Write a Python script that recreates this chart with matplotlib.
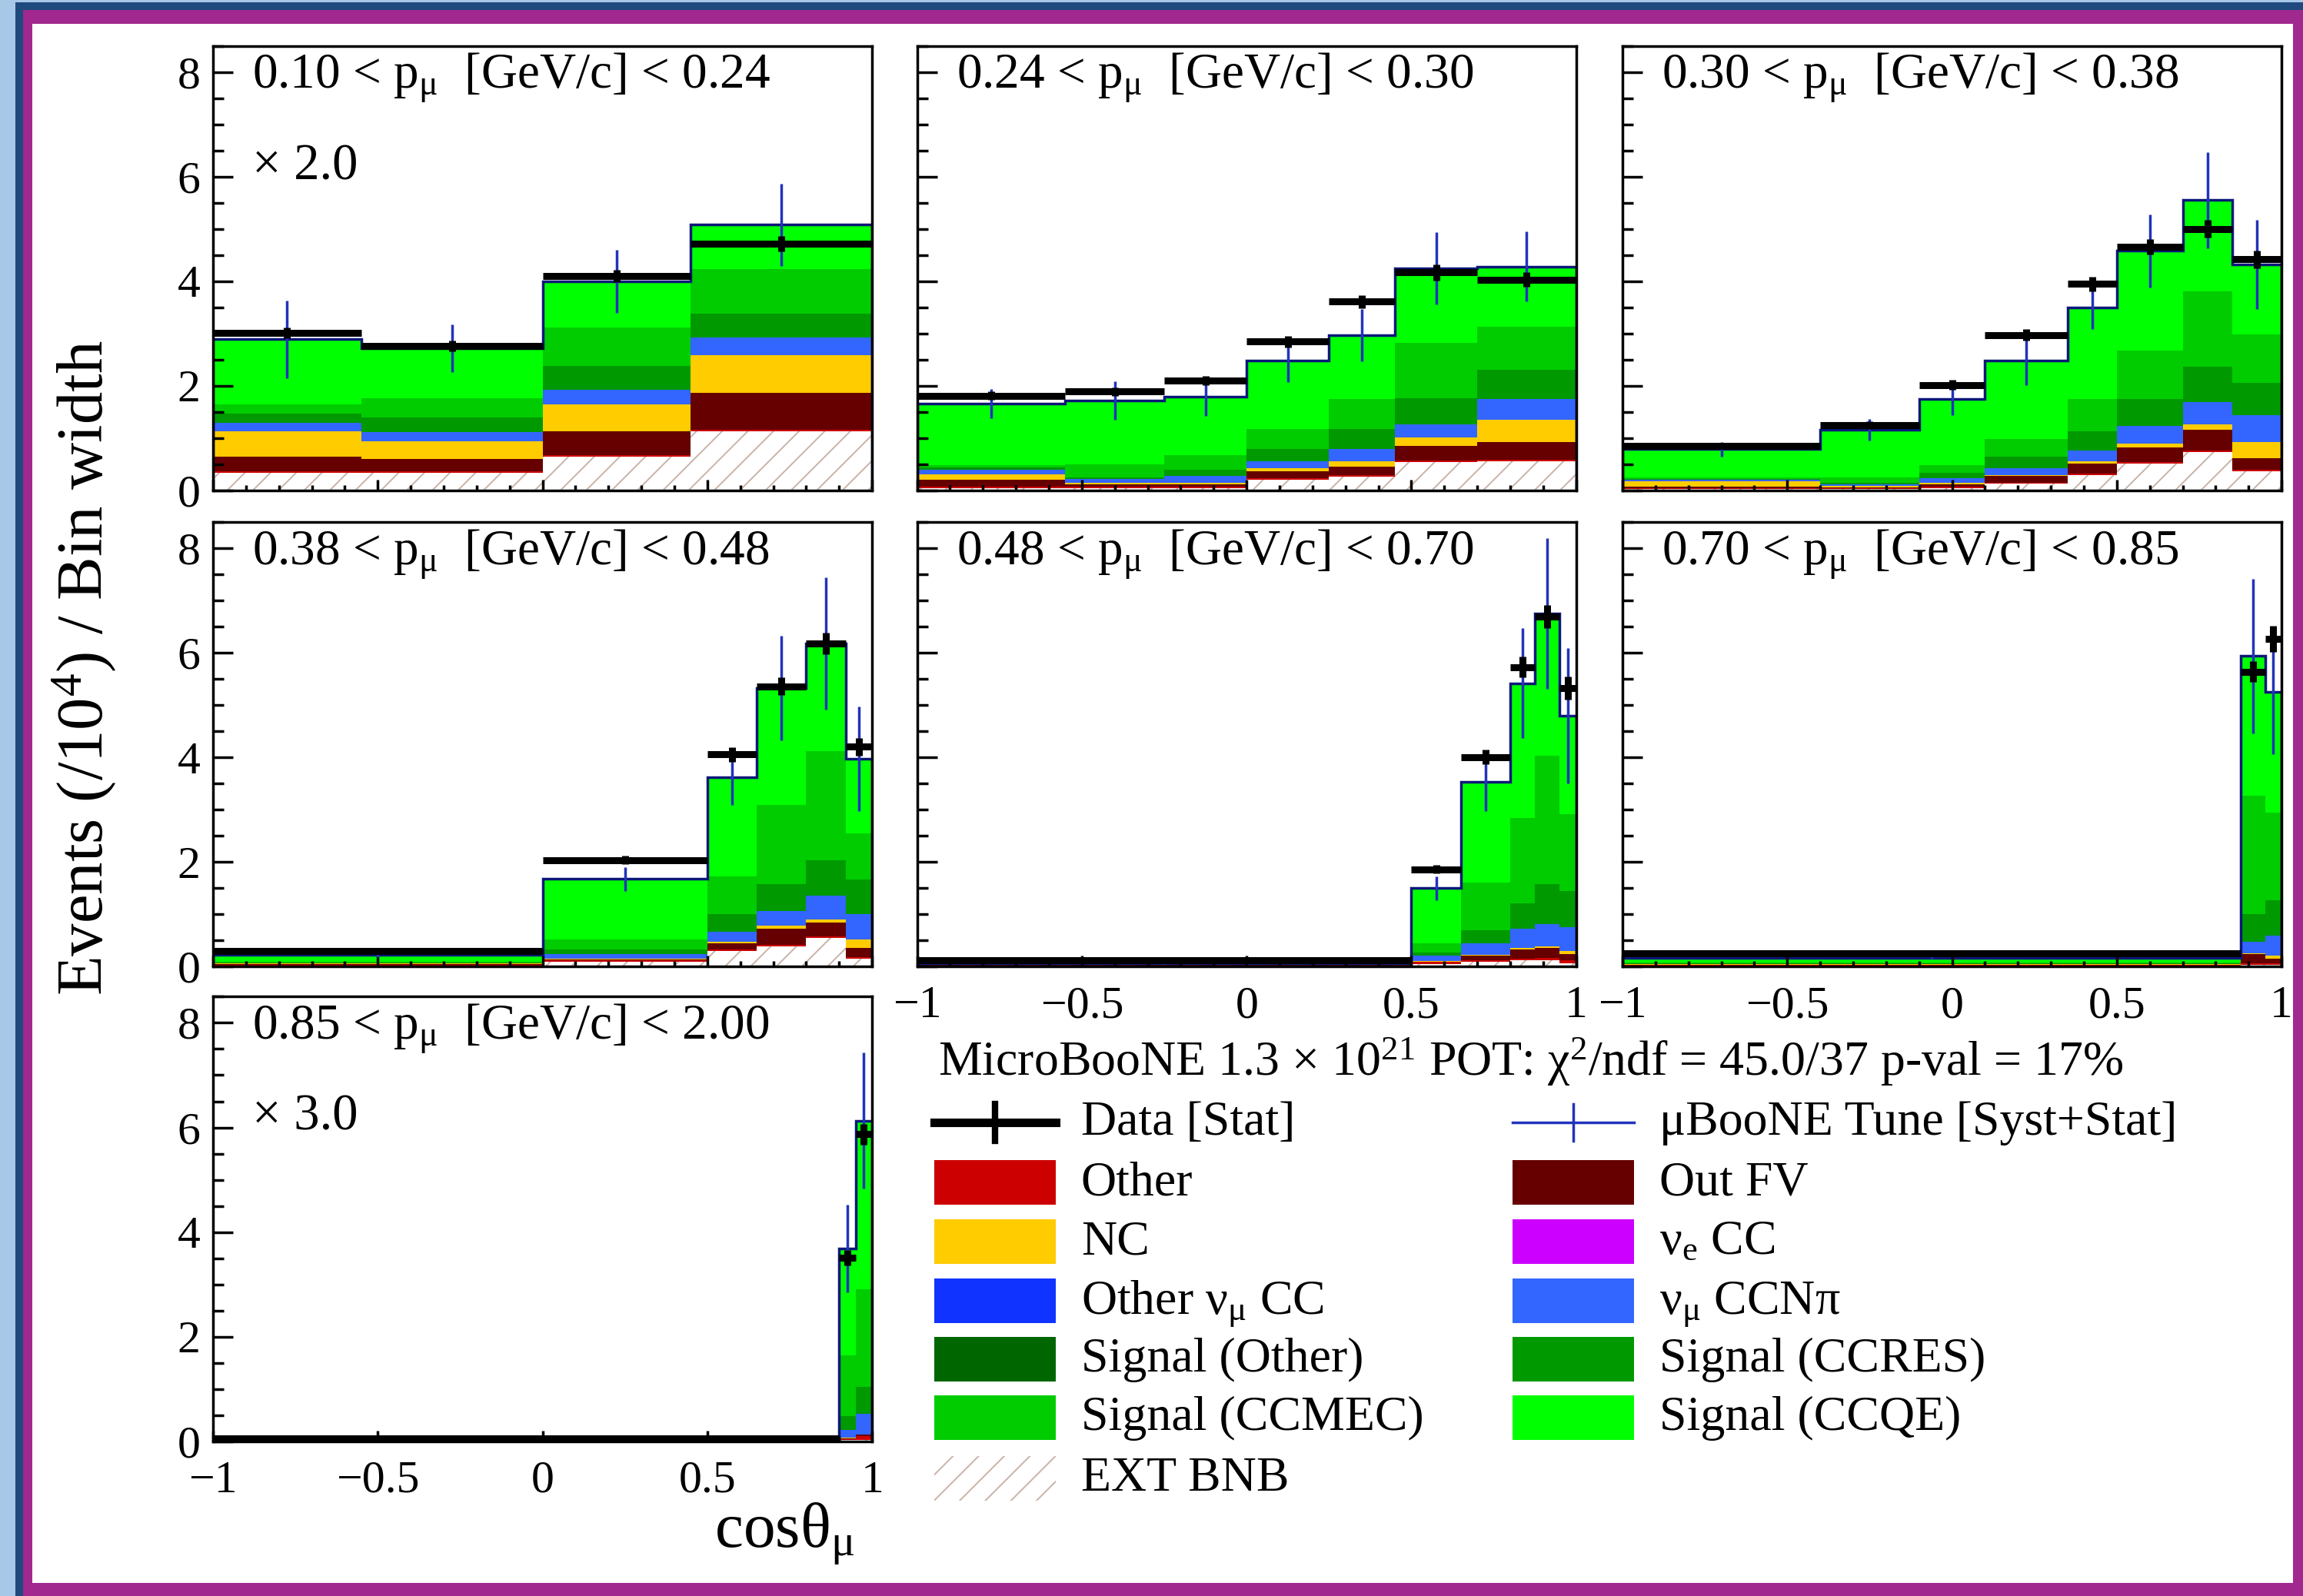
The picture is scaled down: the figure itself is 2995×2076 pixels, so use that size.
import numpy as np
import matplotlib
matplotlib.use('Agg')
import matplotlib.pyplot as plt
from matplotlib.patches import Rectangle
from matplotlib.lines import Line2D
from matplotlib.ticker import MultipleLocator, FuncFormatter

plt.rcParams['font.family'] = ['Liberation Serif', 'DejaVu Serif']
plt.rcParams['mathtext.fontset'] = 'custom'
plt.rcParams['mathtext.rm'] = 'Liberation Serif'
plt.rcParams['mathtext.it'] = 'Liberation Serif:italic'
plt.rcParams['mathtext.default'] = 'regular'
plt.rcParams['hatch.linewidth'] = 1.4
HATCH = '#c9b3a8'
plt.rcParams['hatch.color'] = HATCH

# stack order, bottom -> top; the *_TOPS rows are cumulative stack heights
STACK = ['EXT BNB', 'Other', 'Out FV', 'NC', 'νμ CCNπ',
         'Signal (CCRES)', 'Signal (CCMEC)', 'Signal (CCQE)']
COLORS = {'Other': '#cc0000', 'Out FV': '#660000', 'NC': '#ffcc00', 'νe CC': '#cc00ff',
          'Other νμ CC': '#1133ff', 'νμ CCNπ': '#3366ff', 'Signal (Other)': '#006600',
          'Signal (CCRES)': '#009900', 'Signal (CCMEC)': '#00cc00', 'Signal (CCQE)': '#00ff00'}
MC_LINE = '#0b1878'
MC_ERR = '#2233bb'

# 0.10 < p < 0.24  (x2.0)
P1_EDGES = [-1, -0.55, 0, 0.45, 1]
P1_TOPS = [[0.34, 0.34, 0.65, 1.13],
           [0.37, 0.37, 0.68, 1.16],
           [0.65, 0.60, 1.13, 1.87],
           [1.13, 0.94, 1.65, 2.58],
           [1.30, 1.11, 1.93, 2.92],
           [1.47, 1.39, 2.38, 3.38],
           [1.64, 1.76, 3.12, 4.23],
           [2.89, 2.72, 4.00, 5.08]]
P1_DATA = [3.01, 2.76, 4.10, 4.72]
P1_STAT = [0.10, 0.10, 0.12, 0.15]
P1_MCERR = [0.74, 0.45, 0.60, 0.79]

# 0.24 < p < 0.30
P2_EDGES = [-1, -0.55, -0.25, 0, 0.25, 0.45, 0.7, 1]
P2_TOPS = [[0.05, 0.04, 0.05, 0.20, 0.26, 0.54, 0.56],
           [0.08, 0.07, 0.08, 0.23, 0.29, 0.57, 0.59],
           [0.20, 0.12, 0.12, 0.37, 0.45, 0.85, 0.93],
           [0.31, 0.15, 0.15, 0.42, 0.56, 1.01, 1.35],
           [0.39, 0.22, 0.28, 0.56, 0.79, 1.27, 1.75],
           [0.44, 0.25, 0.40, 0.79, 1.18, 1.77, 2.31],
           [0.48, 0.50, 0.68, 1.18, 1.75, 2.82, 3.13],
           [1.66, 1.72, 1.80, 2.48, 2.97, 4.25, 4.28]]
P2_DATA = [1.81, 1.89, 2.10, 2.85, 3.61, 4.17, 4.03]
P2_STAT = [0.08, 0.08, 0.09, 0.11, 0.13, 0.15, 0.14]
P2_MCERR = [0.28, 0.37, 0.37, 0.41, 0.50, 0.69, 0.67]

# 0.30 < p < 0.38
P3_EDGES = [-1, -0.4, -0.1, 0.1, 0.35, 0.5, 0.7, 0.85, 1]
P3_TOPS = [[0.03, 0.03, 0.05, 0.13, 0.30, 0.51, 0.73, 0.37],
           [0.05, 0.05, 0.07, 0.15, 0.32, 0.54, 0.76, 0.40],
           [0.08, 0.06, 0.11, 0.28, 0.51, 0.82, 1.16, 0.62],
           [0.17, 0.09, 0.14, 0.30, 0.56, 0.90, 1.27, 0.93],
           [0.20, 0.12, 0.23, 0.42, 0.76, 1.24, 1.69, 1.44],
           [0.22, 0.15, 0.34, 0.65, 1.13, 1.75, 2.37, 2.06],
           [0.25, 0.25, 0.48, 0.99, 1.75, 2.68, 3.81, 2.99],
           [0.79, 1.16, 1.75, 2.49, 3.50, 4.58, 5.55, 4.32]]
P3_DATA = [0.85, 1.25, 2.02, 2.97, 3.95, 4.66, 5.00, 4.42]
P3_STAT = [0.05, 0.07, 0.09, 0.11, 0.14, 0.15, 0.17, 0.17]
P3_MCERR = [0.14, 0.20, 0.31, 0.47, 0.41, 0.70, 0.92, 0.85]

# 0.38 < p < 0.48
P4_EDGES = [-1, 0, 0.5, 0.65, 0.8, 0.92, 1]
P4_TOPS = [[0.02, 0.09, 0.30, 0.39, 0.55, 0.15],
           [0.04, 0.12, 0.33, 0.42, 0.58, 0.19],
           [0.05, 0.14, 0.45, 0.73, 0.85, 0.36],
           [0.06, 0.15, 0.48, 0.79, 0.91, 0.52],
           [0.07, 0.24, 0.67, 1.06, 1.36, 1.00],
           [0.08, 0.33, 1.00, 1.58, 2.03, 1.67],
           [0.10, 0.52, 1.73, 3.09, 4.12, 2.55],
           [0.22, 1.68, 3.62, 5.33, 6.18, 3.98]]
P4_DATA = [0.30, 2.04, 4.06, 5.36, 6.18, 4.21]
P4_STAT = [0.03, 0.08, 0.14, 0.17, 0.20, 0.17]
P4_MCERR = [0.03, 0.23, 0.52, 1.00, 1.27, 1.00]

# 0.48 < p < 0.70
P5_EDGES = [-1, 0.5, 0.65, 0.8, 0.875, 0.95, 1]
P5_TOPS = [[0.01, 0.05, 0.09, 0.12, 0.12, 0.06],
           [0.02, 0.09, 0.12, 0.15, 0.17, 0.12],
           [0.03, 0.10, 0.21, 0.33, 0.36, 0.24],
           [0.035, 0.11, 0.23, 0.36, 0.39, 0.30],
           [0.04, 0.21, 0.45, 0.73, 0.82, 0.76],
           [0.045, 0.27, 0.70, 1.21, 1.58, 1.45],
           [0.05, 0.45, 1.61, 2.85, 4.03, 2.91],
           [0.06, 1.50, 3.53, 5.42, 6.76, 4.80]]
P5_DATA = [0.12, 1.86, 4.01, 5.73, 6.70, 5.33]
P5_STAT = [0.02, 0.08, 0.14, 0.20, 0.22, 0.22]
P5_MCERR = [0.01, 0.23, 0.56, 1.05, 1.44, 1.29]

# 0.70 < p < 0.85
P6_EDGES = [-1, 0.875, 0.95, 1]
P6_TOPS = [[0.01, 0.03, 0.03],
           [0.03, 0.06, 0.07],
           [0.04, 0.24, 0.15],
           [0.045, 0.25, 0.21],
           [0.05, 0.48, 0.60],
           [0.06, 1.00, 1.27],
           [0.08, 3.27, 2.94],
           [0.17, 5.94, 5.26]]
P6_DATA = [0.25, 5.64, 6.27]
P6_STAT = [0.02, 0.20, 0.25]
P6_MCERR = [0.02, 1.48, 1.20]

# 0.85 < p < 2.00  (x3.0)
P7_EDGES = [-1, 0.9, 0.95, 1]
P7_TOPS = [[0.005, 0.02, 0.02],
           [0.01, 0.04, 0.10],
           [0.015, 0.06, 0.12],
           [0.02, 0.07, 0.13],
           [0.022, 0.22, 0.52],
           [0.025, 0.48, 1.04],
           [0.03, 1.64, 2.90],
           [0.04, 3.68, 6.13]]
P7_DATA = [0.05, 3.51, 5.87]
P7_STAT = [0.01, 0.15, 0.20]
P7_MCERR = [0.01, 0.84, 1.30]

LABELS = ['0.10 < p$_{μ}$  [GeV/c] < 0.24', '0.24 < p$_{μ}$  [GeV/c] < 0.30',
          '0.30 < p$_{μ}$  [GeV/c] < 0.38', '0.38 < p$_{μ}$  [GeV/c] < 0.48',
          '0.48 < p$_{μ}$  [GeV/c] < 0.70', '0.70 < p$_{μ}$  [GeV/c] < 0.85',
          '0.85 < p$_{μ}$  [GeV/c] < 2.00']
SCALES = ['× 2.0', None, None, None, None, None, '× 3.0']

PANELS = [(P1_EDGES, P1_TOPS, P1_DATA, P1_STAT, P1_MCERR),
          (P2_EDGES, P2_TOPS, P2_DATA, P2_STAT, P2_MCERR),
          (P3_EDGES, P3_TOPS, P3_DATA, P3_STAT, P3_MCERR),
          (P4_EDGES, P4_TOPS, P4_DATA, P4_STAT, P4_MCERR),
          (P5_EDGES, P5_TOPS, P5_DATA, P5_STAT, P5_MCERR),
          (P6_EDGES, P6_TOPS, P6_DATA, P6_STAT, P6_MCERR),
          (P7_EDGES, P7_TOPS, P7_DATA, P7_STAT, P7_MCERR)]

W_PX, H_PX = 2995, 2076
fig = plt.figure(figsize=(W_PX / 100, H_PX / 100), dpi=100)
fig.patch.set_facecolor('#a8c8e8')

def px_rect(x0, y0_top, x1, y1_top, color):
    # rectangle given in pixel coords measured from the top-left corner
    r = Rectangle((x0 / W_PX, 1 - y1_top / H_PX), (x1 - x0) / W_PX, (y1_top - y0_top) / H_PX,
                  transform=fig.transFigure, facecolor=color, edgecolor='none', zorder=-10)
    fig.add_artist(r)

px_rect(20, 3, W_PX + 20, H_PX + 20, '#1f4a7e')
px_rect(30, 13, W_PX + 20, H_PX + 20, '#a0288e')
px_rect(42, 31, 2982, 2059, 'white')

COL_X = [0.0925, 0.3982, 0.7045]
ROW_Y = [0.6927, 0.3943, 0.097]
AW, AH = 0.2862, 0.2785
POS = [(0, 0), (0, 1), (0, 2), (1, 0), (1, 1), (1, 2), (2, 0)]

def xfmt(v, p):
    if abs(v) < 1e-9:
        return '0'
    return f'{v:g}'.replace('-', '−')

for i, ((edges, tops, data, stat, mcerr), (r, c)) in enumerate(zip(PANELS, POS)):
    ax = fig.add_axes([COL_X[c], ROW_Y[r], AW, AH])
    edges = np.asarray(edges, float)
    centers = 0.5 * (edges[1:] + edges[:-1])
    half = 0.5 * np.diff(edges)
    base = np.zeros(len(centers))
    for name, top in zip(STACK, tops):
        top = np.asarray(top, float)
        if name == 'EXT BNB':
            ax.stairs(top, edges, baseline=base, fill=True, facecolor='white',
                      edgecolor=HATCH, hatch='/', linewidth=0)
        else:
            ax.stairs(top, edges, baseline=base, fill=True, color=COLORS[name], linewidth=0)
        base = top
    ax.stairs(base, edges, baseline=0, color=MC_LINE, lw=2.5)
    ax.errorbar(centers, base, yerr=mcerr, fmt='none', ecolor=MC_ERR, elinewidth=2.5, capsize=0)
    ax.errorbar(centers, data, xerr=half, yerr=stat, fmt='none', ecolor='black',
                elinewidth=6.5, capsize=0, zorder=4)

    ax.set_xlim(-1, 1)
    ax.set_ylim(0, 8.5)
    ax.set_xticks([-1, -0.5, 0, 0.5, 1])
    ax.xaxis.set_minor_locator(MultipleLocator(0.1))
    ax.set_yticks([0, 2, 4, 6, 8])
    ax.yaxis.set_minor_locator(MultipleLocator(0.5))
    ax.xaxis.set_major_formatter(FuncFormatter(xfmt))
    ax.tick_params(axis='both', which='both', direction='in', top=False, right=False,
                   width=2.5, labelsize=43)
    ax.tick_params(axis='y', which='major', length=19, pad=12)
    ax.tick_params(axis='y', which='minor', length=10)
    ax.tick_params(axis='x', which='major', length=10, pad=18)
    ax.tick_params(axis='x', which='minor', length=5)
    ax.tick_params(labelleft=(c == 0), labelbottom=(i >= 4))
    for s in ax.spines.values():
        s.set_linewidth(2.5)
    ax.text(0.06, 0.904, LABELS[i], transform=ax.transAxes, fontsize=47, va='baseline', ha='left')
    if SCALES[i]:
        ax.text(0.06, 0.70, SCALES[i], transform=ax.transAxes, fontsize=48, va='baseline', ha='left')

fig.text(0.0364, 0.5814, 'Events (/10$^{4}$) / Bin width', rotation=90, fontsize=61,
         ha='center', va='center')
fig.text(0.3713, 0.0308, 'cosθ$_{μ}$', fontsize=60, ha='right', va='baseline')

# legend block
fig.text(0.4075, 0.326, 'MicroBooNE 1.3 × 10$^{21}$ POT: χ$^{2}$/ndf = 45.0/37 p-val = 17%',
         fontsize=46, ha='left', va='baseline')
LEG_ROWS = [0.2967, 0.2592, 0.2221, 0.1851, 0.1484, 0.1118, 0.0737]
LEG_LEFT = [('Data [Stat]', 'data'), ('Other', 'Other'), ('NC', 'NC'),
            ('Other ν$_{μ}$ CC', 'Other νμ CC'), ('Signal (Other)', 'Signal (Other)'),
            ('Signal (CCMEC)', 'Signal (CCMEC)'), ('EXT BNB', 'ext')]
LEG_RIGHT = [('μBooNE Tune [Syst+Stat]', 'mc'), ('Out FV', 'Out FV'), ('ν$_{e}$ CC', 'νe CC'),
             ('ν$_{μ}$ CCNπ', 'νμ CCNπ'), ('Signal (CCRES)', 'Signal (CCRES)'),
             ('Signal (CCQE)', 'Signal (CCQE)')]
SW_W, SW_H = 0.0528, 0.0279
for col_x, text_x, entries in [(0.4056, 0.4694, LEG_LEFT), (0.6568, 0.7206, LEG_RIGHT)]:
    for yc, (txt, key) in zip(LEG_ROWS, entries):
        if key == 'data':
            fig.add_artist(Line2D([col_x, col_x + SW_W], [yc, yc], color='black', lw=8,
                                  transform=fig.transFigure))
            fig.add_artist(Line2D([col_x + SW_W / 2] * 2, [yc - 0.0115, yc + 0.0115], color='black',
                                  lw=6, transform=fig.transFigure))
        elif key == 'mc':
            fig.add_artist(Line2D([col_x, col_x + SW_W], [yc, yc], color=MC_ERR, lw=2.5,
                                  transform=fig.transFigure))
            fig.add_artist(Line2D([col_x + SW_W / 2] * 2, [yc - 0.0115, yc + 0.0115], color=MC_ERR,
                                  lw=2.5, transform=fig.transFigure))
        elif key == 'ext':
            fig.add_artist(Rectangle((col_x, yc - SW_H / 2), SW_W, SW_H, facecolor='white',
                                     edgecolor=HATCH, hatch='/', linewidth=0,
                                     transform=fig.transFigure))
        else:
            fig.add_artist(Rectangle((col_x, yc - SW_H / 2), SW_W, SW_H, facecolor=COLORS[key],
                                     edgecolor='none', transform=fig.transFigure))
        fig.text(text_x, yc - 0.0079, txt, fontsize=46, ha='left', va='baseline')

fig.savefig('out.png', dpi=100, facecolor=fig.get_facecolor())
